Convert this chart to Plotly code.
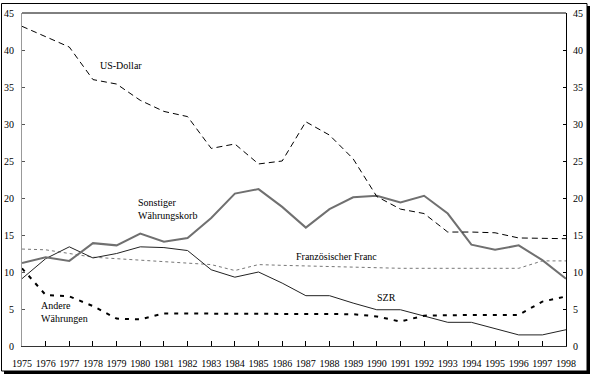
import plotly.graph_objects as go

years = list(range(1975, 1999))
us_dollar = [43.2, 41.8, 40.4, 36.0, 35.4, 33.2, 31.7, 31.0, 26.7, 27.3, 24.6, 25.0,
             30.3, 28.5, 25.3, 20.2, 18.5, 17.9, 15.4, 15.4, 15.3, 14.6, 14.6, 14.5]
sonstiger = [11.2, 12.0, 11.5, 13.9, 13.6, 15.2, 14.1, 14.6, 17.3, 20.6, 21.2, 18.8,
             16.0, 18.5, 20.1, 20.3, 19.4, 20.3, 17.9, 13.7, 13.0, 13.6, 11.6, 9.1]
szr = [9.1, 11.8, 13.4, 11.9, 12.5, 13.4, 13.3, 12.9, 10.3, 9.3, 10.0, 8.5,
       6.8, 6.8, 5.8, 4.9, 4.9, 4.0, 3.2, 3.2, 2.4, 1.5, 1.5, 2.2]
franc = [13.1, 13.0, 12.5, 12.0, 11.8, 11.6, 11.4, 11.1, 11.0, 10.2, 11.0, 10.9,
         10.8, 10.8, 10.6, 10.5, 10.5, 10.5, 10.5, 10.5, 10.5, 10.5, 11.5, 11.5]
andere = [10.5, 6.9, 6.7, 5.4, 3.7, 3.6, 4.4, 4.4, 4.4, 4.4, 4.3, 4.3,
          4.3, 4.3, 4.3, 4.0, 3.3, 4.1, 4.2, 4.2, 4.2, 4.2, 6.0, 6.7]
y_ticks = [0, 5, 10, 15, 20, 25, 30, 35, 40, 45]

FONT = "Liberation Serif"
fig = go.Figure()
fig.add_trace(go.Scatter(x=years, y=franc, mode="lines",
                         line=dict(color="#777777", width=1, dash="dot")))
fig.add_trace(go.Scatter(x=years, y=szr, mode="lines",
                         line=dict(color="#222222", width=1)))
fig.add_trace(go.Scatter(x=years, y=sonstiger, mode="lines",
                         line=dict(color="#707070", width=2)))
fig.add_trace(go.Scatter(x=years, y=andere, mode="lines",
                         line=dict(color="#000000", width=2, dash="4px,6px")))
fig.add_trace(go.Scatter(x=years, y=us_dollar, mode="lines",
                         line=dict(color="#000000", width=1, dash="6px,4px")))
# invisible trace for right axis
fig.add_trace(go.Scatter(x=years, y=us_dollar, yaxis="y2", mode="lines",
                         line=dict(width=0), hoverinfo="skip", opacity=0))

W, H = 590, 376
L, R, T, B = 22, 24, 13, 30
pw, ph = W - L - R, H - T - B


def px(x):
    return (x - L) / pw


def py(y):
    return (H - B - y) / ph


shapes = [
    dict(type="line", xref="paper", yref="paper", x0=0, x1=1, y0=1, y1=1,
         line=dict(color="black", width=1)),
    dict(type="rect", xref="paper", yref="paper", x0=px(1.5), x1=px(587), y0=py(371), y1=py(3.5),
         line=dict(color="black", width=1)),
    dict(type="line", xref="paper", yref="paper", x0=px(588.5), x1=px(588.5), y0=py(374), y1=py(6),
         line=dict(color="black", width=3)),
    dict(type="line", xref="paper", yref="paper", x0=px(4), x1=px(590), y0=py(372.5), y1=py(372.5),
         line=dict(color="black", width=3)),
]

ann_font = dict(family=FONT, size=10, color="black")
annotations = [
    dict(x=1979.19, y=37.97, text="US-Dollar", showarrow=False, font=ann_font),
    dict(x=1979.82, y=18.45, text="Sonstiger<br>Währungskorb", showarrow=False,
         xanchor="left", align="left", font=ann_font),
    dict(x=1988.30, y=12.16, text="Französischer Franc", showarrow=False, font=ann_font),
    dict(x=1990.43, y=6.49, text="SZR", showarrow=False, font=ann_font),
    dict(x=1975.72, y=4.64, text="Andere<br>Währungen", showarrow=False,
         xanchor="left", align="left", font=ann_font),
]

tickfont = dict(family=FONT, size=10, color="black")
fig.update_layout(
    width=W, height=H,
    margin=dict(l=L, r=R, t=T, b=B, pad=0, autoexpand=False),
    paper_bgcolor="white", plot_bgcolor="white",
    showlegend=False,
    shapes=shapes,
    annotations=annotations,
    xaxis=dict(range=[1975, 1998], tickvals=years, ticktext=[str(y) for y in years],
               ticks="inside", ticklen=5, tickcolor="black", showgrid=False, zeroline=False,
               showline=True, linecolor="#333333", linewidth=1, tickfont=tickfont,
               ticklabelstandoff=8, tickangle=0, automargin=False),
    yaxis=dict(range=[0, 45], tickvals=y_ticks, ticks="inside", ticklen=3, tickcolor="#555555",
               showgrid=False, zeroline=False, showline=True, linecolor="#999999", linewidth=1,
               tickfont=tickfont, ticklabelstandoff=5, automargin=False),
    yaxis2=dict(range=[0, 45], tickvals=y_ticks, ticks="inside", ticklen=3, tickcolor="black",
                overlaying="y", side="right", showgrid=False, zeroline=False, showline=True,
                linecolor="black", linewidth=1, tickfont=tickfont, ticklabelstandoff=4,
                automargin=False),
)

fig.write_html("out.html", config={"displayModeBar": False},
               post_script="document.body.style.margin='0';document.body.style.overflow='hidden';")
